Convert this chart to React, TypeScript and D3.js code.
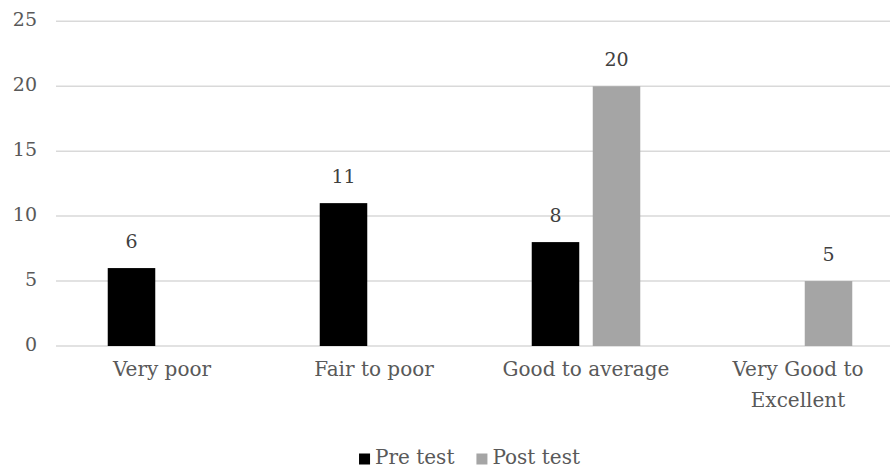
import React, { useEffect, useRef } from "react";
import * as d3 from "d3";

const categories = ["Very poor", "Fair to poor", "Good to average", "Very Good to Excellent"];
const seriesNames = ["Pre test", "Post test"];
const preTest = [6, 11, 8, null];
const postTest = [null, null, 20, 5];
const yTicks = [0, 5, 10, 15, 20, 25];

const W = 890;
const H = 469;
const FONT = "'DejaVu Serif', serif";
const TEXT = "#595959";
const COLORS = ["#000000", "#a5a5a5"];

export default function App() {
  const ref = useRef<SVGSVGElement | null>(null);

  useEffect(() => {
    const svg = d3.select(ref.current);
    svg.selectAll("*").remove();

    const left = 56, right = 904, top = 21.3, bottom = 346;
    const x0 = d3.scaleBand<string>().domain(categories).range([left, right]).paddingInner(0).paddingOuter(0);
    const x1 = d3.scaleBand<string>().domain(seriesNames).range([0, x0.bandwidth()]).paddingInner(0.221).paddingOuter(0.848);
    const y = d3.scaleLinear().domain([0, 25]).range([bottom, top]);

    const txt = (sel: any, size: number, fill: string) =>
      sel.style("font-family", FONT).style("font-size", size + "px").attr("fill", fill);

    // gridlines
    svg.append("g").selectAll("line").data(yTicks).join("line")
      .attr("x1", left).attr("x2", W)
      .attr("y1", d => y(d)).attr("y2", d => y(d))
      .attr("stroke", "#d9d9d9").attr("stroke-width", 1.5);

    // y tick labels
    txt(svg.append("g").selectAll("text").data(yTicks).join("text")
      .attr("x", 37).attr("y", d => y(d) + 4.6)
      .attr("text-anchor", "end"), 19, TEXT)
      .text((d: number) => String(d));

    const seriesData = [preTest, postTest];
    seriesData.forEach((vals, si) => {
      const g = svg.append("g");
      const pts = vals.map((v, i) => ({ v, c: categories[i] })).filter(p => p.v !== null) as { v: number; c: string }[];
      g.selectAll("rect").data(pts).join("rect")
        .attr("x", d => (x0(d.c) as number) + (x1(seriesNames[si]) as number))
        .attr("width", x1.bandwidth())
        .attr("y", d => y(d.v))
        .attr("height", d => y(0) - y(d.v))
        .attr("fill", COLORS[si]);
      txt(g.selectAll("text").data(pts).join("text")
        .attr("x", d => (x0(d.c) as number) + (x1(seriesNames[si]) as number) + x1.bandwidth() / 2)
        .attr("y", d => y(d.v) - 20)
        .attr("text-anchor", "middle"), 19, "#404040")
        .text((d: any) => String(d.v));
    });

    // category labels with wrapping
    const maxW = 195;
    const cg = svg.append("g");
    categories.forEach(c => {
      const cx = (x0(c) as number) + x0.bandwidth() / 2;
      const t = txt(cg.append("text")
        .attr("x", cx).attr("y", 375.5)
        .attr("text-anchor", "middle"), 20, TEXT);
      const words = c.split(" ");
      let line: string[] = [];
      let lineNo = 0;
      let tspan = t.append("tspan").attr("x", cx).attr("y", 375.5);
      words.forEach(w => {
        line.push(w);
        tspan.text(line.join(" "));
        if ((tspan.node() as SVGTSpanElement).getComputedTextLength() > maxW && line.length > 1) {
          line.pop();
          tspan.text(line.join(" "));
          line = [w];
          lineNo++;
          tspan = t.append("tspan").attr("x", cx).attr("y", 375.5 + lineNo * 31).text(w);
        }
      });
    });

    // legend
    const lg = svg.append("g");
    const items: { w: number; name: string; color: string }[] = [];
    seriesNames.forEach((n, i) => {
      const tmp = txt(lg.append("text"), 20, TEXT).text(n);
      const w = (tmp.node() as SVGTextElement).getComputedTextLength();
      tmp.remove();
      items.push({ w, name: n, color: COLORS[i] });
    });
    const sq = 11, gapSq = 5, gapItem = 22;
    const total = items.reduce((a, it) => a + sq + gapSq + it.w, 0) + gapItem * (items.length - 1);
    let lx = 469.5 - total / 2;
    items.forEach(it => {
      lg.append("rect").attr("x", lx).attr("y", 453.5).attr("width", sq).attr("height", sq).attr("fill", it.color);
      txt(lg.append("text").attr("x", lx + sq + gapSq).attr("y", 463.5), 20, TEXT).text(it.name);
      lx += sq + gapSq + it.w + gapItem;
    });
  }, []);

  return (
    <svg ref={ref} width={W} height={H} style={{ position: "absolute", left: 0, top: 0, background: "#fff" }} />
  );
}
